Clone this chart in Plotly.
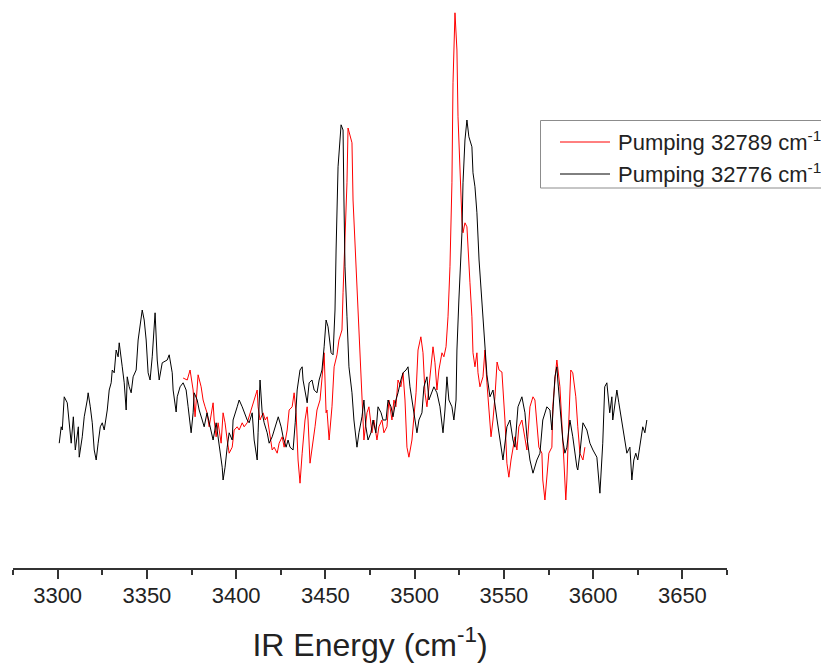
# IR action spectra: two pump energies, shared x-axis only

import plotly.graph_objects as go

FONT = "Arial, Liberation Sans, sans-serif"

# ── Data (intensity in arbitrary units) ──────────────────────────────────────

black_wn = [
    3300.9, 3302.0, 3302.6, 3303.7, 3305.4, 3305.9, 3307.6, 3308.8, 3309.9, 3311.6,
    3312.1, 3313.8, 3314.9, 3316.6, 3317.1, 3318.3, 3319.4, 3320.5, 3321.6, 3322.7,
    3323.9, 3325.0, 3326.1, 3327.8, 3328.9, 3330.0, 3330.6, 3331.7, 3332.8, 3333.9,
    3334.5, 3336.2, 3337.3, 3338.4, 3339.0, 3340.1, 3341.2, 3342.3, 3344.0, 3345.1,
    3346.2, 3347.4, 3348.5, 3349.6, 3350.7, 3351.8, 3353.0, 3354.1, 3354.6, 3355.8,
    3356.9, 3358.6, 3359.7, 3361.4, 3362.5, 3364.2, 3364.7, 3366.4, 3367.0, 3368.6,
    3370.3, 3372.0, 3373.1, 3374.8, 3375.9, 3376.5, 3378.2, 3379.3, 3381.0, 3382.1,
    3383.7, 3384.9, 3386.5, 3387.1, 3388.8, 3389.9, 3391.0, 3392.2, 3392.7, 3393.8,
    3395.0, 3396.1, 3397.8, 3398.3, 3400.6, 3401.7, 3403.4, 3404.5, 3406.2, 3407.3,
    3409.0, 3410.1, 3411.8, 3412.3, 3413.4, 3414.6, 3415.7, 3417.4, 3418.5, 3420.2,
    3422.4, 3423.6, 3425.2, 3426.3, 3428.0, 3429.1, 3430.2, 3431.9, 3433.1, 3434.2,
    3435.8, 3437.0, 3437.5, 3438.6, 3439.8, 3440.9, 3442.5, 3443.7, 3445.3, 3446.5,
    3448.1, 3449.3, 3450.4, 3451.5, 3453.2, 3454.3, 3455.4, 3456.0, 3457.1, 3458.8,
    3459.9, 3460.4, 3461.0, 3462.1, 3463.2, 3464.9, 3466.0, 3467.7, 3468.8, 3470.5,
    3471.6, 3472.7, 3473.9, 3475.5, 3476.7, 3478.3, 3479.5, 3481.2, 3482.3, 3484.0,
    3485.1, 3486.8, 3487.9, 3489.5, 3490.7, 3492.3, 3493.5, 3495.2, 3496.3, 3497.4,
    3499.1, 3500.2, 3501.3, 3502.4, 3504.1, 3505.2, 3506.9, 3508.0, 3509.7, 3510.8,
    3512.5, 3514.2, 3515.9, 3517.0, 3518.1, 3519.2, 3520.9, 3522.0, 3523.2, 3523.7,
    3524.8, 3526.5, 3527.1, 3528.2, 3529.3, 3530.4, 3532.1, 3532.7, 3533.8, 3534.9,
    3536.1, 3537.7, 3538.3, 3539.4, 3540.5, 3542.2, 3543.9, 3546.2, 3547.8, 3549.5,
    3551.7, 3553.4, 3555.1, 3556.2, 3557.9, 3560.1, 3561.8, 3562.9, 3564.6, 3566.3,
    3568.5, 3570.2, 3571.8, 3574.1, 3575.8, 3576.9, 3578.6, 3579.7, 3580.2, 3581.4,
    3583.0, 3584.2, 3585.3, 3587.0, 3588.6, 3590.9, 3591.4, 3592.6, 3594.3, 3596.5,
    3598.2, 3599.9, 3602.1, 3603.8, 3605.4, 3606.5, 3607.7, 3609.3, 3610.5, 3611.0,
    3613.3, 3614.4, 3616.1, 3617.2, 3618.9, 3620.6, 3621.7, 3622.8, 3623.9, 3625.0,
    3626.7, 3627.8, 3629.0, 3630.1,
]
black_int = [
    -0.8, 3.3, 2.5, 10.8, 9.3, 6.8, -0.8, 5.8, -2.5, 3.3,
    -4.3, 0.8, 5.8, 10.0, 11.8, 8.3, 4.3, -2.5, -5.0, -0.8,
    3.3, 4.3, 2.5, 7.5, 12.5, 14.3, 17.5, 16.8, 22.5, 20.8,
    24.3, 18.3, 14.3, 7.5, 15.8, 13.3, 11.8, 15.8, 17.5, 25.0,
    28.3, 32.5, 30.0, 25.0, 16.8, 15.0, 20.8, 30.0, 31.8, 20.0,
    15.0, 19.3, 19.5, 20.0, 21.3, 16.8, 12.5, 7.0, 10.8, 13.3,
    14.3, 12.5, 8.3, 1.8, 6.8, 11.8, 10.0, 7.5, 5.0, 3.3,
    6.8, 4.3, 1.8, 0.0, 4.3, 0.8, -2.5, -6.8, -10.0, -6.8,
    -1.8, 1.8, 0.0, 5.0, 8.3, 10.0, 8.3, 6.8, 5.0, 4.3,
    6.8, 0.0, -5.0, 1.8, 15.0, 6.8, 4.3, 1.8, -0.8, 0.8,
    4.3, 5.8, 3.3, 0.8, -1.8, 0.0, -1.8, -2.5, 4.3, 12.5,
    17.5, 18.3, 15.0, 12.5, 9.3, 14.3, 15.0, 12.5, 11.8, 15.0,
    17.5, 23.3, 30.0, 28.3, 21.8, 21.3, 32.5, 47.5, 68.3, 78.8,
    77.5, 60.0, 43.3, 30.8, 18.3, 11.8, 5.0, -1.8, 1.8, 5.8,
    10.0, 3.3, 0.0, 1.8, 5.0, 1.8, 8.3, 6.8, 5.0, 5.0,
    10.0, 8.3, 5.8, 10.0, 11.8, 15.0, 16.8, 17.5, 18.3, 13.3,
    8.3, 5.0, 1.8, 5.0, 6.8, 13.3, 15.8, 10.0, 11.8, 13.3,
    11.8, 8.3, 1.8, 7.5, 15.8, 10.0, 8.3, 5.0, 10.0, 22.5,
    35.0, 51.8, 64.3, 75.0, 80.0, 75.8, 73.3, 66.8, 63.3, 56.8,
    45.0, 35.0, 30.0, 23.8, 16.3, 10.8, 12.5, 5.0, 0.0, -5.0,
    3.3, 5.0, 0.0, -1.8, 8.3, 10.8, 6.8, 0.8, -5.0, -8.3,
    -5.0, -3.3, 5.0, 8.3, 7.5, 2.5, 15.8, 18.3, 15.0, 9.3,
    0.0, -3.3, -1.8, 5.0, 0.8, -6.8, -7.5, -3.3, 4.3, 2.5,
    -0.8, -2.5, -4.3, -13.3, -0.8, 13.3, 14.3, 6.8, 10.8, 5.0,
    12.5, 9.3, 4.3, 0.8, -3.3, -1.8, -10.0, -5.0, -3.3, -5.0,
    0.0, 3.3, 1.8, 5.0,
]

red_wn = [
    3370.3, 3372.6, 3374.2, 3375.9, 3377.0, 3378.2, 3378.7, 3380.4, 3381.5, 3382.6,
    3383.7, 3384.9, 3386.0, 3387.1, 3387.7, 3388.8, 3389.9, 3391.6, 3392.7, 3393.8,
    3395.0, 3396.1, 3397.8, 3398.9, 3400.6, 3401.7, 3403.4, 3404.5, 3406.2, 3407.3,
    3409.0, 3410.1, 3411.8, 3412.3, 3413.4, 3415.1, 3416.3, 3417.4, 3418.5, 3420.2,
    3421.3, 3423.0, 3424.1, 3425.8, 3426.9, 3428.6, 3429.7, 3431.4, 3432.5, 3433.6,
    3434.7, 3435.8, 3437.0, 3438.6, 3439.8, 3440.3, 3441.4, 3443.1, 3444.2, 3445.3,
    3447.0, 3448.7, 3449.3, 3450.4, 3450.9, 3452.1, 3453.7, 3454.9, 3456.5, 3457.6,
    3459.3, 3459.9, 3461.0, 3462.1, 3462.7, 3463.8, 3464.9, 3465.5, 3467.2, 3468.3,
    3469.9, 3471.1, 3471.6, 3473.3, 3474.4, 3476.1, 3477.2, 3478.9, 3480.0, 3481.7,
    3482.8, 3484.5, 3485.6, 3487.3, 3488.4, 3489.5, 3490.7, 3492.3, 3493.5, 3494.6,
    3495.7, 3496.8, 3498.5, 3499.6, 3500.8, 3501.9, 3503.5, 3504.7, 3505.8, 3506.9,
    3508.6, 3510.3, 3511.4, 3512.5, 3513.6, 3515.3, 3516.4, 3517.6, 3518.7, 3519.8,
    3520.9, 3521.5, 3522.6, 3523.7, 3524.3, 3525.4, 3526.5, 3527.1, 3528.2, 3529.3,
    3529.9, 3531.0, 3532.1, 3532.7, 3533.8, 3534.9, 3535.5, 3536.6, 3538.3, 3539.4,
    3540.5, 3541.7, 3542.8, 3543.9, 3545.0, 3546.2, 3547.3, 3548.9, 3549.5, 3550.6,
    3551.7, 3552.8, 3554.0, 3555.1, 3556.2, 3557.3, 3558.4, 3560.1, 3561.8, 3562.9,
    3564.6, 3566.3, 3567.4, 3568.5, 3569.6, 3571.3, 3571.8, 3573.0, 3574.1, 3575.2,
    3576.9, 3577.4, 3579.1, 3579.7, 3581.4, 3582.5, 3583.6, 3584.7, 3585.3, 3586.4,
    3587.5, 3588.6, 3590.3, 3591.4, 3592.6, 3594.3, 3595.4,
]
red_int = [
    15.5, 15.0, 17.5, 12.5, 5.8, 12.5, 16.3, 13.3, 10.0, 8.3,
    6.8, 3.3, 6.8, 9.3, 5.0, 0.8, 4.3, -0.8, 6.8, 4.3,
    0.0, -3.3, -1.8, 2.5, 3.3, 2.5, 4.3, 3.3, 4.3, 5.8,
    8.3, 10.0, 12.5, 8.3, 5.0, 6.8, 5.0, 5.8, 2.5, -2.5,
    -1.8, -3.3, -0.8, 0.8, -1.8, 2.5, 7.5, 8.3, 11.8, 6.8,
    -5.0, -10.8, -3.3, 5.0, 8.3, 5.0, -5.8, -0.8, 3.3, 7.5,
    10.0, 18.3, 21.8, 6.8, 7.5, 0.0, 8.3, 18.3, 21.3, 25.0,
    27.5, 36.8, 50.0, 64.3, 78.0, 75.8, 74.3, 60.0, 43.3, 31.8,
    18.3, 7.5, 0.0, 6.8, 8.3, 1.8, 5.0, 0.0, 3.3, 5.0,
    1.8, 3.3, 10.0, 5.0, 10.0, 8.3, 15.0, 13.3, 16.8, 10.0,
    -1.8, -4.3, 0.0, 5.8, 11.8, 22.5, 25.8, 21.8, 11.8, 8.3,
    15.0, 23.3, 19.3, 12.5, 17.5, 21.8, 20.8, 23.3, 30.8, 43.3,
    64.3, 89.3, 106.8, 97.5, 80.8, 66.8, 55.0, 51.8, 54.3, 53.3,
    46.8, 39.3, 30.8, 21.8, 18.3, 21.8, 16.8, 13.3, 15.8, 22.5,
    14.3, 7.5, 0.8, 5.0, 10.8, 19.5, 17.5, 17.0, 13.3, 5.0,
    -5.8, -9.3, -5.0, -1.8, 0.8, -2.5, 3.3, 5.0, 0.0, -2.5,
    8.3, 10.8, 10.0, 4.3, -1.8, -3.3, -10.0, -15.0, -9.3, -3.3,
    -1.8, 8.3, 17.5, 20.0, 13.3, 5.0, -5.0, -15.0, -10.0, 5.0,
    17.5, 16.8, 10.8, 3.3, -3.3, -5.0, -1.8,
]

series_names = [
    "Pumping 32789 cm<sup>-1</sup>",
    "Pumping 32776 cm<sup>-1</sup>",
]
series_colors = ["#ff0000", "#000000"]
x_ticks = [3300, 3350, 3400, 3450, 3500, 3550, 3600, 3650]

# ── Page geometry (the page body adds an 8px offset) ─────────────────────────

W, H = 829, 663
ML, MR, MT, MB = 5, 110, 0, 103
OFFSET = 8
PLOT_L = OFFSET + ML
PLOT_W = W - ML - MR
PLOT_T = OFFSET + MT
PLOT_H = H - MT - MB


def px_x(px):
    return (px - PLOT_L) / PLOT_W


def px_y(py):
    return (PLOT_T + PLOT_H - py) / PLOT_H


# ── Figure ────────────────────────────────────────────────────────────────────

fig = go.Figure()
fig.add_trace(go.Scatter(x=red_wn, y=red_int, mode="lines", name=series_names[0],
                         line=dict(color=series_colors[0], width=1)))
fig.add_trace(go.Scatter(x=black_wn, y=black_int, mode="lines", name=series_names[1],
                         line=dict(color=series_colors[1], width=1)))

# legend box drawn by hand so it can run off the right edge like the original
fig.add_shape(type="rect", xref="paper", yref="paper",
              x0=px_x(540.5), x1=px_x(840), y0=px_y(188), y1=px_y(120.5),
              line=dict(color="#8c8c8c", width=1), fillcolor="white", layer="above")
for i, (name, color) in enumerate(zip(series_names, series_colors)):
    ly = 142 + 32 * i
    fig.add_shape(type="line", xref="paper", yref="paper",
                  x0=px_x(560), x1=px_x(610), y0=px_y(ly), y1=px_y(ly),
                  line=dict(color=color, width=1), layer="above")
    fig.add_annotation(text=name, xref="paper", yref="paper",
                       x=px_x(616), y=px_y(ly - 1), xanchor="left", yanchor="middle",
                       showarrow=False, font=dict(family=FONT, size=22, color="#222222"))

fig.update_layout(
    width=W, height=H,
    paper_bgcolor="white", plot_bgcolor="white",
    margin=dict(l=ML, r=MR, t=MT, b=MB),
    font=dict(family=FONT, color="#222222"),
    showlegend=False,
    xaxis=dict(
        range=[3275, 3675], showgrid=False, zeroline=False,
        showline=True, linecolor="#333333", linewidth=2,
        tickvals=x_ticks, ticks="outside", ticklen=9, tickwidth=1.5, tickcolor="#333333",
        ticklabelstandoff=-2,
        tickfont=dict(family=FONT, size=22, color="#222222"),
        minor=dict(dtick=25, tick0=3275, ticks="outside", ticklen=5, tickwidth=1.5,
                   tickcolor="#333333", showgrid=False),
        title=dict(text="IR Energy (cm<sup>-1</sup>)", standoff=26,
                   font=dict(family=FONT, size=32, color="#222222")),
    ),
    yaxis=dict(range=[-32, 108], visible=False, showgrid=False, zeroline=False),
)

fig.write_html("out.html")
